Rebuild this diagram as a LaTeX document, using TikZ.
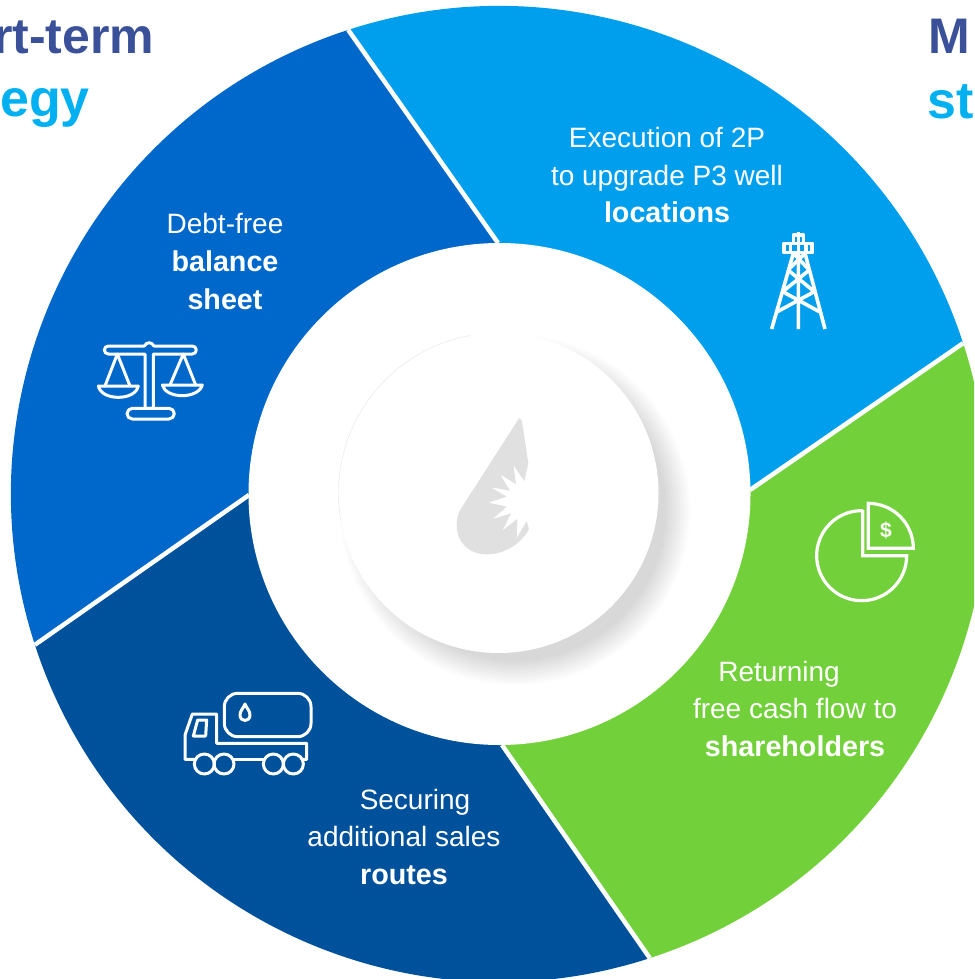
\documentclass[tikz,border=0pt]{standalone}
\usepackage{fontspec}
\setmainfont{Liberation Sans}
\definecolor{segA}{HTML}{009FEE}
\definecolor{segB}{HTML}{0068CA}
\definecolor{segC}{HTML}{00519B}
\definecolor{segD}{HTML}{72D13A}
\definecolor{ttlA}{HTML}{3A5199}
\definecolor{ttlB}{HTML}{00B0F0}
\definecolor{dropgrey}{HTML}{E0E0E0}
\tikzset{
  seglabel/.style={text=white,font=\fontsize{28}{28}\selectfont,anchor=base,inner sep=0pt},
  seglabelb/.style={seglabel,font=\fontsize{28.7}{28}\selectfont\bfseries},
  ttl/.style={font=\fontsize{50}{50}\selectfont\bfseries,inner sep=0pt},
  ttlc/.style={font=\fontsize{52}{52}\selectfont\bfseries,inner sep=0pt},
  icon/.style={draw=white,line width=3pt,line join=round,line cap=round},
  spoke/.style={draw=white,line width=4.5pt}
}
\begin{document}
\begin{tikzpicture}[x=1pt,y=1pt]
\useasboundingbox (0,0) rectangle (974,-979);
\clip (0,0) rectangle (974,-979);
\fill[white] (0,0) rectangle (974,-979);
\coordinate (ctr) at (499,-494);
\coordinate (ia) at (498,-243);
\coordinate (ib) at (249,-495);
\coordinate (ic) at (502,-745);
\coordinate (id) at (750,-490);
% ring
\path (ctr) ++(18:488) coordinate (od);
\path (ctr) ++(108:488) coordinate (oa);
\path (ctr) ++(198:488) coordinate (ob);
\path (ctr) ++(288:488) coordinate (oc);
\fill[segA] (ctr) -- (id) -- (od) arc[start angle=18,end angle=108,radius=488] -- (ia) -- cycle;
\fill[segB] (ctr) -- (ia) -- (oa) arc[start angle=108,end angle=198,radius=488] -- (ib) -- cycle;
\fill[segC] (ctr) -- (ib) -- (ob) arc[start angle=198,end angle=288,radius=488] -- (ic) -- cycle;
\fill[segD] (ctr) -- (ic) -- (oc) arc[start angle=288,end angle=378,radius=488] -- (id) -- cycle;
\draw[spoke] (ia) -- (oa);
\draw[spoke] (ib) -- (ob);
\draw[spoke] (ic) -- (oc);
\draw[spoke] (id) -- (od);
\fill[white] (499.5,-494) circle[radius=251];
% shadow
\foreach \r in {175,173,171,169,167,165,163,161,159,157,155,153,151}
  \fill[black,opacity=0.012] (515,-510) circle[radius=\r];
\fill[white] (498.5,-493) circle[radius=160];
\draw[black!10,line width=0.4pt] (498.5,-493) ++(100:160) arc[start angle=100,end angle=190,radius=160];
% drop
\begin{scope}[shift={(330,-320)},xscale=1/3,yscale=-1/3]
\fill[dropgrey] (567,295) .. controls (575,295) and (576,305) .. (578,318) -- (595,430) -- (583,483) -- (550,435) -- (558,492) -- (510,463) -- (540,512) -- (483,502) -- (530,530) -- (475,548) -- (530,560) -- (488,597) -- (543,580) -- (517,632) -- (562,597) -- (560,655) -- (590,603) -- (597,628) .. controls (570,675) and (520,703) .. (470,703) .. controls (420,703) and (380,670) .. (380,615) .. controls (380,585) and (390,570) .. (400,555) -- cycle;
\end{scope}
% derrick
\begin{scope}[shift={(750,-220)},xscale=1/3,yscale=-1/3]
\begin{scope}[every path/.style={icon,line width=3.6pt,line cap=butt}]
\draw (65,327) -- (130,100) (225,327) -- (165,100) (145,100) -- (145,327);
\draw (102,70) rectangle (186,98);
\draw (122,70) -- (122,98) (168,70) -- (168,98);
\draw (130,70) -- (130,45) -- (160,45) -- (160,70) (145,35) -- (145,100);
\draw (130,100) -- (178,150) (165,100) -- (114,150) (114,150) -- (193,215) (178,150) -- (98,215) (98,215) -- (208,275) (193,215) -- (82,275);
\end{scope}
\end{scope}
% pie
\begin{scope}[shift={(800,-490)},xscale=1/3,yscale=-1/3]
\draw[icon,line width=3.2pt,line cap=butt,line join=miter] (188,60) -- (188,197) -- (320,197) arc[start angle=0,end angle=272,radius=135];
\draw[icon,line width=3.2pt,line cap=butt,line join=miter] (205,40) -- (205,175) -- (340,175) arc[start angle=0,end angle=-90,radius=135] -- cycle;
\end{scope}
\node[text=white,font=\fontsize{21}{21}\selectfont\bfseries,inner sep=0pt] (dollar) at (886,-530) {\$};
% scales
\begin{scope}[shift={(85,-330)},xscale=1/3,yscale=-1/3]
\draw[icon] (70,48) -- (178,48) .. controls (185,35) and (200,35) .. (207,48) -- (322,48) arc[start angle=-90,end angle=90,radius=12] -- (205,72) -- (205,235) -- (180,235) -- (180,72) -- (70,72) arc[start angle=90,end angle=270,radius=12] -- cycle;
\draw[icon] (142,235) -- (252,235) arc[start angle=-90,end angle=90,radius=16] -- (142,267) arc[start angle=90,end angle=270,radius=16] -- cycle;
\draw[icon] (60,168) -- (97,72) -- (135,168);
\draw[icon] (40,168) -- (160,168) .. controls (155,190) and (130,202) .. (100,202) .. controls (70,202) and (45,190) .. (40,168) -- cycle;
\draw[icon] (255,165) -- (295,72) -- (332,165);
\draw[icon] (232,165) -- (352,165) .. controls (347,185) and (320,197) .. (292,197) .. controls (262,197) and (237,185) .. (232,165) -- cycle;
\end{scope}
% truck
\begin{scope}[shift={(175,-680)},xscale=1/3,yscale=-1/3]
\draw[icon] (188,40) -- (368,40) arc[start angle=-90,end angle=0,radius=40] -- (408,130) arc[start angle=0,end angle=90,radius=40] -- (188,170) arc[start angle=90,end angle=180,radius=40] -- (148,80) arc[start angle=180,end angle=270,radius=40] -- cycle;
\draw[icon] (210,72) .. controls (205,85) and (195,92) .. (195,105) .. controls (195,127) and (225,127) .. (225,105) .. controls (225,92) and (215,85) .. (210,72) -- cycle;
\draw[icon] (58,238) -- (30,238) -- (30,165) -- (52,102) -- (125,102) -- (125,190) -- (395,190) -- (395,238) -- (385,238);
\draw[icon] (175,238) -- (265,238);
\draw[icon] (68,120) -- (95,120) -- (92,168) -- (55,168) -- cycle;
\foreach \wx in {88,147,295,355} \draw[icon] (\wx,252) circle[radius=30];
\end{scope}
% labels
\node[seglabel] (a1) at (667,-147.5) {Execution of 2P};
\node[seglabel] (a2) at (667,-185) {to upgrade P3 well};
\node[seglabelb] (a3) at (667,-222) {locations};
\node[seglabel] (b1) at (225,-233.5) {Debt-free};
\node[seglabelb] (b2) at (225,-271.5) {balance};
\node[seglabelb] (b3) at (225,-309) {sheet};
\node[seglabel] (d1) at (779,-681) {Returning};
\node[seglabel] (d2) at (795,-718) {free cash flow to};
\node[seglabelb] (d3) at (795,-756) {shareholders};
\node[seglabel] (c1) at (415,-809) {Securing};
\node[seglabel] (c2) at (404,-846) {additional sales};
\node[seglabelb] (c3) at (404,-884) {routes};
% titles
\node[ttl,text=ttlA,anchor=base east] (t1) at (154.5,-53.5) {rt-term};
\node[ttlc,text=ttlB,anchor=base east] (t2) at (90,-117) {egy};
\node[ttl,text=ttlA,anchor=base west] (t3) at (928,-53.5) {M};
\node[ttlc,text=ttlB,anchor=base west] (t4) at (927,-118) {st};
\end{tikzpicture}
\end{document}
